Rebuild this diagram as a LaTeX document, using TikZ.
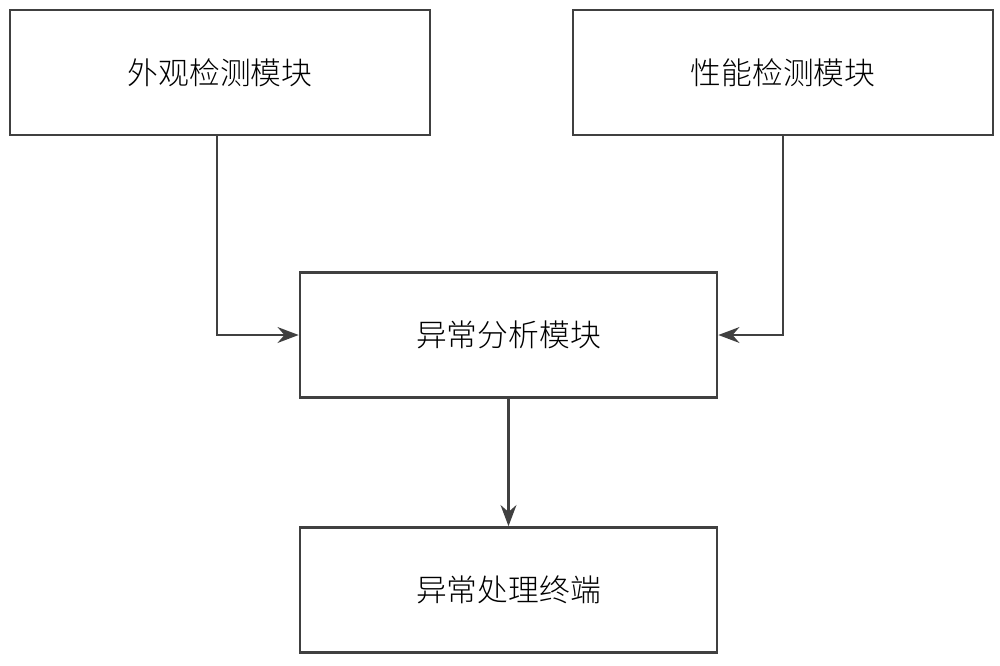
\documentclass[tikz,border=0pt]{standalone}
\usepackage{fontspec}
\newfontfamily\cjk{Noto Sans CJK SC Light}
\usetikzlibrary{arrows.meta}
\tikzset{
  module/.style={draw=black!75, line width=1.5pt, minimum width=8.4cm, minimum height=2.5cm, font=\cjk\fontsize{17.5}{20}\selectfont},
  link/.style={draw=black!75, line width=1.5pt, -{Stealth[length=12pt,width=9pt]}}
}
\begin{document}
\begin{tikzpicture}
  \useasboundingbox (0,0) rectangle (20,-13.3);
  \node[module] (look) at (4.4,-1.45)   {外观检测模块};
  \node[module] (perf) at (15.66,-1.45) {性能检测模块};
  \node[module, minimum width=8.34cm] (anal) at (10.17,-6.7)  {异常分析模块};
  \node[module, minimum width=8.34cm] (term) at (10.17,-11.8) {异常处理终端};
  \draw[link] ([xshift=-0.06cm]look.south) |- (anal.west);
  \draw[link] (perf.south) |- (anal.east);
  \draw[link] (anal) -- (term);
\end{tikzpicture}
\end{document}
